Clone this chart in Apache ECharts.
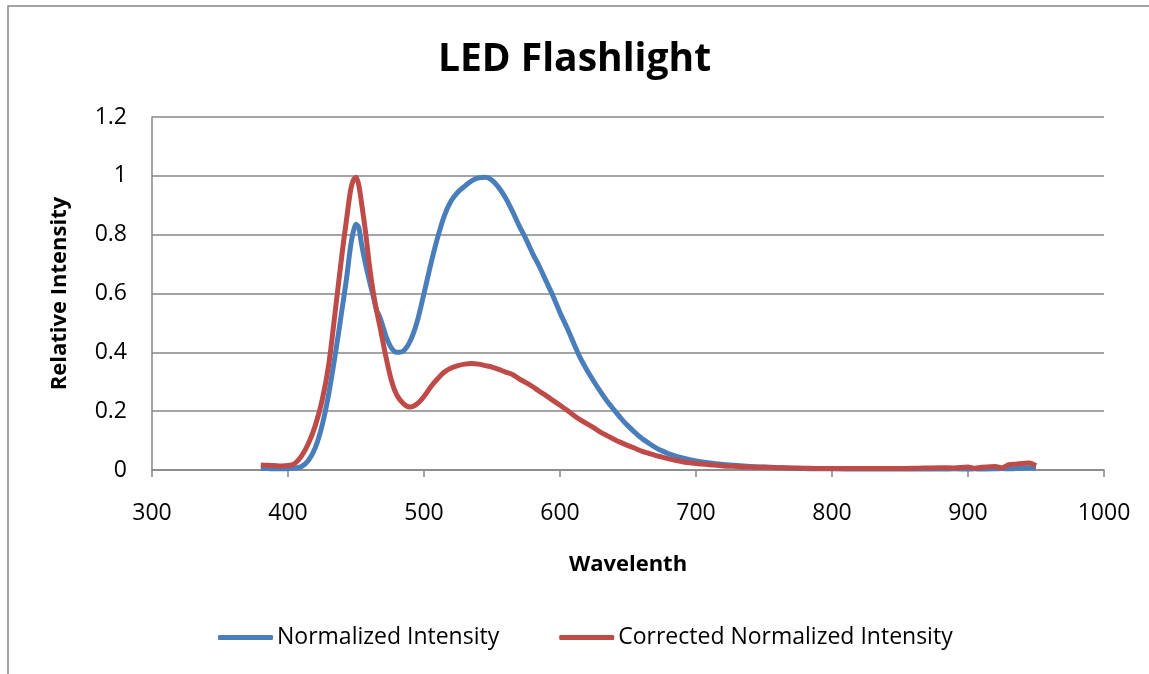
<!DOCTYPE html>
<html>
<head>
<meta charset="utf-8">
<script src="https://cdn.jsdelivr.net/npm/echarts@6/dist/echarts.min.js"></script>
<style>
html,body{margin:0;padding:0;background:#fff;}
#chart{width:1149px;height:674px;}
</style>
</head>
<body>
<div id="chart"></div>
<script>
const wavelengths = [380,385,390,395,400,405,410,415,420,425,430,435,440,443,446,448,450,452,454,457,460,463,465,467,469,472,476,480,485,490,495,500,505,510,515,520,525,530,535,540,545,550,555,560,565,570,575,580,585,590,595,600,605,610,615,620,625,630,635,640,645,650,655,660,665,670,675,680,690,700,710,720,730,740,750,760,770,780,790,800,820,840,860,880,890,900,905,910,920,925,930,935,940,945,950];
const normalized = [0.005,0.005,0.004,0.004,0.005,0.006,0.012,0.032,0.075,0.15,0.26,0.40,0.555,0.65,0.76,0.81,0.835,0.825,0.77,0.70,0.64,0.585,0.545,0.525,0.50,0.455,0.415,0.40,0.405,0.44,0.505,0.60,0.70,0.79,0.865,0.915,0.945,0.965,0.983,0.993,0.995,0.985,0.96,0.925,0.88,0.83,0.785,0.735,0.69,0.64,0.59,0.535,0.485,0.432,0.38,0.338,0.30,0.265,0.232,0.203,0.175,0.15,0.128,0.108,0.092,0.077,0.065,0.055,0.041,0.031,0.024,0.019,0.015,0.012,0.010,0.008,0.006,0.005,0.004,0.004,0.003,0.003,0.003,0.003,0.004,0.003,0.004,0.003,0.004,0.005,0.004,0.005,0.006,0.008,0.008];
const corrected = [0.017,0.016,0.015,0.014,0.015,0.022,0.048,0.09,0.15,0.235,0.36,0.55,0.745,0.85,0.95,0.985,0.995,0.97,0.91,0.81,0.69,0.595,0.545,0.50,0.455,0.385,0.305,0.255,0.225,0.214,0.225,0.25,0.283,0.31,0.333,0.347,0.355,0.36,0.362,0.36,0.355,0.35,0.342,0.333,0.325,0.31,0.297,0.283,0.267,0.252,0.236,0.22,0.204,0.186,0.17,0.157,0.143,0.128,0.116,0.104,0.093,0.083,0.074,0.064,0.057,0.05,0.044,0.038,0.028,0.022,0.018,0.014,0.012,0.010,0.009,0.008,0.007,0.006,0.005,0.005,0.005,0.005,0.006,0.008,0.007,0.010,0.006,0.009,0.012,0.008,0.018,0.020,0.022,0.024,0.015];
const xTicks = {min:300, max:1000, interval:100};
const yTicks = {min:0, max:1.2, interval:0.2};
const seriesNames = ['Normalized Intensity','Corrected Normalized Intensity'];

const font = "'Open Sans', 'Noto Sans', sans-serif";
const chart = echarts.init(document.getElementById('chart'), null, {renderer:'canvas'});
chart.setOption({
  backgroundColor:'#fff',
  animation:false,
  title:{
    text:'LED Flashlight', left:'center', top:35,
    textStyle:{fontFamily:font, fontSize:39, fontWeight:'bold', color:'#000'}
  },
  graphic:[{
    type:'polyline', shape:{points:[[8,674],[8,6],[1149,6]]},
    style:{stroke:'#878787', lineWidth:1.5, fill:null}, silent:true
  }],
  legend:{
    bottom:20, left:213,
    itemWidth:55, itemHeight:5, itemGap:60,
    icon:'roundRect',
    textStyle:{fontFamily:font, fontSize:23, color:'#000', padding:[0,0,0,-1]},
    data:seriesNames
  },
  grid:{left:152, right:45, top:117, bottom:204},
  xAxis:{
    type:'value', min:xTicks.min, max:xTicks.max, interval:xTicks.interval,
    name:'Wavelenth', nameLocation:'middle', nameGap:84,
    nameTextStyle:{fontFamily:font, fontSize:22, fontWeight:'bold', color:'#000'},
    axisLine:{show:true, lineStyle:{color:'#868686', width:1.5}},
    axisTick:{show:true, length:7, lineStyle:{color:'#868686', width:1.5}},
    axisLabel:{fontFamily:font, fontSize:23, color:'#000', margin:32, formatter:v=>String(v)},
    splitLine:{show:false}
  },
  yAxis:{
    type:'value', min:yTicks.min, max:yTicks.max, interval:yTicks.interval,
    name:'Relative Intensity', nameLocation:'middle', nameGap:81,
    nameTextStyle:{fontFamily:font, fontSize:22, fontWeight:'bold', color:'#000'},
    axisLine:{show:true, lineStyle:{color:'#868686', width:1.5}},
    axisTick:{show:false},
    axisLabel:{fontFamily:font, fontSize:23, color:'#000', margin:25, formatter:v=>String(+v.toFixed(1))},
    splitLine:{show:true, lineStyle:{color:'#868686', width:1.5}}
  },
  series:[
    {name:seriesNames[0], type:'line', showSymbol:false, smooth:0.3,
     data:wavelengths.map((w,i)=>[w,normalized[i]]),
     itemStyle:{color:'#4A7EBB'}, lineStyle:{color:'#4A7EBB', width:5}},
    {name:seriesNames[1], type:'line', showSymbol:false, smooth:0.3,
     data:wavelengths.map((w,i)=>[w,corrected[i]]),
     itemStyle:{color:'#BE4B48'}, lineStyle:{color:'#BE4B48', width:5}}
  ]
});
</script>
</body>
</html>
